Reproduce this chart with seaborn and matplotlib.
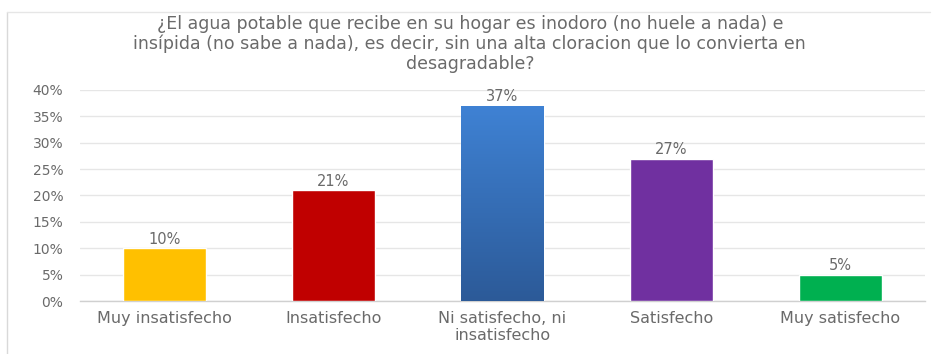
import matplotlib
matplotlib.use("Agg")
import matplotlib.pyplot as plt
import numpy as np
import pandas as pd
import seaborn as sns
from matplotlib.lines import Line2D

categories = ["Muy insatisfecho", "Insatisfecho", "Ni satisfecho, ni\ninsatisfecho",
              "Satisfecho", "Muy satisfecho"]
values = [10, 21, 37, 27, 5]
bar_colors = ["#FFC000", "#C00000", "#3A78C8", "#7030A0", "#00B050"]
y_ticks = [0, 5, 10, 15, 20, 25, 30, 35, 40]
y_tick_labels = [f"{t}%" for t in y_ticks]
title = ("¿El agua potable que recibe en su hogar es inodoro (no huele a nada) e\n"
         "insípida (no sabe a nada), es decir, sin una alta cloracion que lo convierta en\n"
         "desagradable?")

sns.set_theme(style="white")
plt.rcParams["font.family"] = ["DejaVu Sans"]
text_color = "#6a6a6a"

df = pd.DataFrame({"cat": categories, "val": values})

fig = plt.figure(figsize=(9.36, 3.54), dpi=100)
ax = fig.add_axes([0.0855, 0.1497, 0.9025, 0.5961])

sns.barplot(data=df, x="cat", y="val", hue="cat", palette=bar_colors,
            width=0.49, legend=False, ax=ax, saturation=1, zorder=3)

ax.set_ylim(0, 40)
ax.set_xlim(-0.5, len(categories) - 0.5)
ax.set_yticks(y_ticks)
ax.set_yticklabels(y_tick_labels)
ax.set_xlabel("")
ax.set_ylabel("")
ax.tick_params(axis="y", length=0, pad=12, labelsize=10, labelcolor=text_color)
ax.tick_params(axis="x", length=0, pad=7, labelsize=11.5, labelcolor=text_color)
for t in ax.get_xticklabels():
    t.set_linespacing(1.2)

ax.yaxis.grid(True, color="#e6e6e6", linewidth=1.0, zorder=0)
ax.xaxis.grid(False)
for side in ["top", "right", "left"]:
    ax.spines[side].set_visible(False)
ax.spines["bottom"].set_color("#d0d0d0")
ax.spines["bottom"].set_linewidth(1.0)

# vertical shading on the middle bar
bars = ax.patches
mid = bars[2]
x0, w = mid.get_x(), mid.get_width()
h = mid.get_height()
grad = np.linspace(0, 1, 256).reshape(-1, 1)
cmap = matplotlib.colors.LinearSegmentedColormap.from_list("shade", ["#2C5A98", "#3F82D4"])
img = ax.imshow(grad, extent=[x0, x0 + w, 0, h], origin="lower", aspect="auto",
                cmap=cmap, zorder=3.5)
img.set_clip_path(mid)
ax.set_xlim(-0.5, len(categories) - 0.5)
ax.set_ylim(0, 40)

for b, v in zip(bars, values):
    ax.text(b.get_x() + b.get_width() / 2, v + 0.3, f"{v}%", ha="center", va="bottom",
            fontsize=10.5, color=text_color, zorder=5)

fig.text(0.502, 0.957, title, ha="center", va="top", fontsize=12.5,
         color=text_color, linespacing=1.1)

# chart frame
fig.add_artist(Line2D([7 / 936, 7 / 936], [0, 1 - 12 / 354], transform=fig.transFigure,
                      color="#d9d9d9", linewidth=1))
fig.add_artist(Line2D([7 / 936, 930 / 936], [1 - 12 / 354, 1 - 12 / 354],
                      transform=fig.transFigure, color="#e6e6e6", linewidth=1))

fig.savefig("out.png", dpi=100, facecolor="white")
